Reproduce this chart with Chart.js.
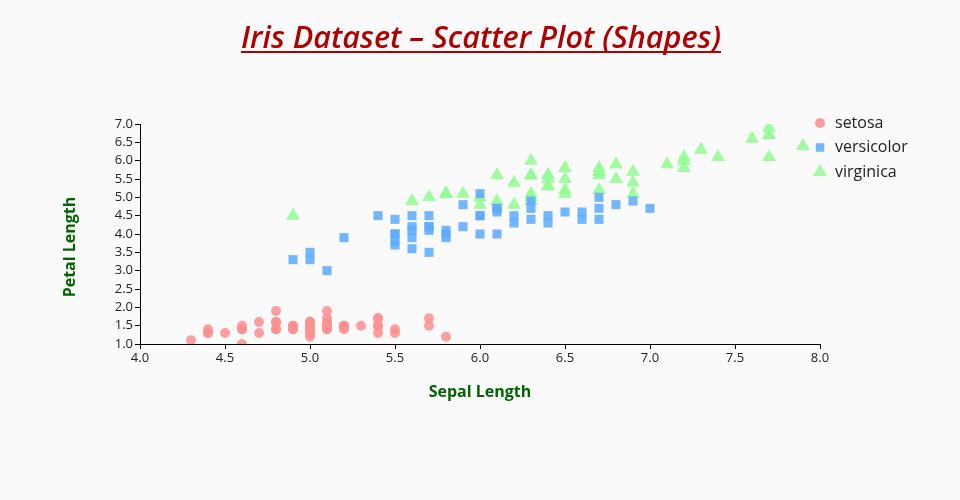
<!DOCTYPE html>
<html>
<head>
<meta charset="utf-8">
<script src="https://cdn.jsdelivr.net/npm/chart.js@4"></script>
<style>
  html, body { margin: 0; padding: 0; background: #fafafa; }
  #wrap { width: 960px; height: 500px; position: relative; }
</style>
</head>
<body>
<div id="wrap"><canvas id="chart" width="960" height="500"></canvas></div>
<script>
// sepal length / petal length for each species
const setosaSepal = [5.1,4.9,4.7,4.6,5.0,5.4,4.6,5.0,4.4,4.9,5.4,4.8,4.8,4.3,5.8,5.7,5.4,5.1,5.7,5.1,5.4,5.1,4.6,5.1,4.8,5.0,5.0,5.2,5.2,4.7,4.8,5.4,5.2,5.5,4.9,5.0,5.5,4.9,4.4,5.1,5.0,4.5,4.4,5.0,5.1,4.8,5.1,4.6,5.3,5.0];
const setosaPetal = [1.4,1.4,1.3,1.5,1.4,1.7,1.4,1.5,1.4,1.5,1.5,1.6,1.4,1.1,1.2,1.5,1.3,1.4,1.7,1.5,1.7,1.5,1.0,1.7,1.9,1.6,1.6,1.5,1.4,1.6,1.6,1.5,1.5,1.4,1.5,1.2,1.3,1.4,1.3,1.5,1.3,1.3,1.3,1.6,1.9,1.4,1.6,1.4,1.5,1.4];
const versicolorSepal = [7.0,6.4,6.9,5.5,6.5,5.7,6.3,4.9,6.6,5.2,5.0,5.9,6.0,6.1,5.6,6.7,5.6,5.8,6.2,5.6,5.9,6.1,6.3,6.1,6.4,6.6,6.8,6.7,6.0,5.7,5.5,5.5,5.8,6.0,5.4,6.0,6.7,6.3,5.6,5.5,5.5,6.1,5.8,5.0,5.6,5.7,5.7,6.2,5.1,5.7];
const versicolorPetal = [4.7,4.5,4.9,4.0,4.6,4.5,4.7,3.3,4.6,3.9,3.5,4.2,4.0,4.7,3.6,4.4,4.5,4.1,4.5,3.9,4.8,4.0,4.9,4.7,4.3,4.4,4.8,5.0,4.5,3.5,3.8,3.7,3.9,5.1,4.5,4.5,4.7,4.4,4.1,4.0,4.4,4.6,4.0,3.3,4.2,4.2,4.2,4.3,3.0,4.1];
const virginicaSepal = [6.3,5.8,7.1,6.3,6.5,7.6,4.9,7.3,6.7,7.2,6.5,6.4,6.8,5.7,5.8,6.4,6.5,7.7,7.7,6.0,6.9,5.6,7.7,6.3,6.7,7.2,6.2,6.1,6.4,7.2,7.4,7.9,6.4,6.3,6.1,7.7,6.3,6.4,6.0,6.9,6.7,6.9,5.8,6.8,6.7,6.7,6.3,6.5,6.2,5.9];
const virginicaPetal = [6.0,5.1,5.9,5.6,5.8,6.6,4.5,6.3,5.8,6.1,5.1,5.3,5.5,5.0,5.1,5.3,5.5,6.7,6.9,5.0,5.7,4.9,6.7,4.9,5.7,6.0,4.8,4.9,5.6,5.8,6.1,6.4,5.6,5.1,5.6,6.1,5.6,5.5,4.8,5.4,5.6,5.1,5.1,5.9,5.7,5.2,5.0,5.2,5.4,5.1];

const species = ['setosa', 'versicolor', 'virginica'];
const xRange = [4.0, 8.0];
const yRange = [1.0, 7.0];

const FONT = "'Open Sans', sans-serif";

function toPoints(xs, ys) {
    return xs.map((x, i) => ({ x: x, y: ys[i] }));
}

const datasets = [
    { label: species[0], data: toPoints(setosaSepal, setosaPetal), pointStyle: 'circle', pointRadius: 5, backgroundColor: 'rgba(255,145,145,0.88)' },
    { label: species[1], data: toPoints(versicolorSepal, versicolorPetal), pointStyle: 'rect', pointRadius: 6.4, backgroundColor: 'rgba(95,172,255,0.88)' },
    { label: species[2], data: toPoints(virginicaSepal, virginicaPetal), pointStyle: 'triangle', pointRadius: 8, backgroundColor: 'rgba(148,252,148,0.88)' }
];
datasets.forEach(d => {
    d.borderWidth = 0;
    d.pointHoverRadius = d.pointRadius;
});

// title, axis titles and legend drawn at fixed places
const decorations = {
    id: 'decorations',
    afterDraw(chart) {
        const ctx = chart.ctx;
        const area = chart.chartArea;
        ctx.save();

        // title (underlined)
        ctx.font = 'italic 600 30.6px ' + FONT;
        ctx.fillStyle = '#b00000';
        ctx.textAlign = 'center';
        ctx.textBaseline = 'alphabetic';
        const title = 'Iris Dataset \u2013 Scatter Plot (Shapes)';
        ctx.fillText(title, 481, 48);
        const w = ctx.measureText(title).width;
        ctx.fillRect(481 - w / 2, 51, w, 2);

        // axis titles
        ctx.font = 'bold 16px ' + FONT;
        ctx.fillStyle = '#006400';
        ctx.textBaseline = 'middle';
        ctx.fillText('Sepal Length', (area.left + area.right) / 2, 392);
        ctx.translate(70, 247);
        ctx.rotate(-Math.PI / 2);
        ctx.fillText('Petal Length', 0, 0);
        ctx.restore();

        // legend
        ctx.save();
        ctx.font = '16px ' + FONT;
        ctx.textAlign = 'left';
        ctx.textBaseline = 'middle';
        chart.data.datasets.forEach((ds, i) => {
            const y = 123 + i * 24.5;
            ctx.fillStyle = ds.backgroundColor;
            Chart.helpers.drawPoint(ctx, {
                pointStyle: ds.pointStyle,
                radius: ds.pointStyle === 'circle' ? 5 : (ds.pointStyle === 'rect' ? 6 : 8),
                rotation: 0,
                borderWidth: 0
            }, 820, y);
            ctx.fillStyle = '#222';
            ctx.fillText(ds.label, 835, y);
        });
        ctx.restore();
    }
};

new Chart(document.getElementById('chart'), {
    type: 'scatter',
    data: { datasets: datasets },
    options: {
        responsive: false,
        animation: false,
        layout: { padding: { top: 124, right: 140, left: 0, bottom: 0 } },
        plugins: {
            legend: { display: false },
            tooltip: { enabled: false }
        },
        scales: {
            x: {
                type: 'linear',
                min: xRange[0],
                max: xRange[1],
                afterFit: s => { s.height = 156; },
                grid: { drawOnChartArea: false, drawTicks: true, tickLength: 5, color: '#000' },
                border: { color: '#000', width: 1 },
                ticks: {
                    stepSize: 0.5,
                    autoSkip: false,
                    color: '#222',
                    padding: 1,
                    maxRotation: 0,
                    font: { family: FONT, size: 13 },
                    callback: v => v.toFixed(1)
                }
            },
            y: {
                type: 'linear',
                min: yRange[0],
                max: yRange[1],
                afterFit: s => { s.width = 140; },
                grid: { drawOnChartArea: false, drawTicks: true, tickLength: 5, color: '#000' },
                border: { color: '#000', width: 1 },
                ticks: {
                    stepSize: 0.5,
                    autoSkip: false,
                    color: '#222',
                    padding: 2,
                    font: { family: FONT, size: 13 },
                    callback: v => v.toFixed(1)
                }
            }
        }
    },
    plugins: [decorations]
});
</script>
</body>
</html>
